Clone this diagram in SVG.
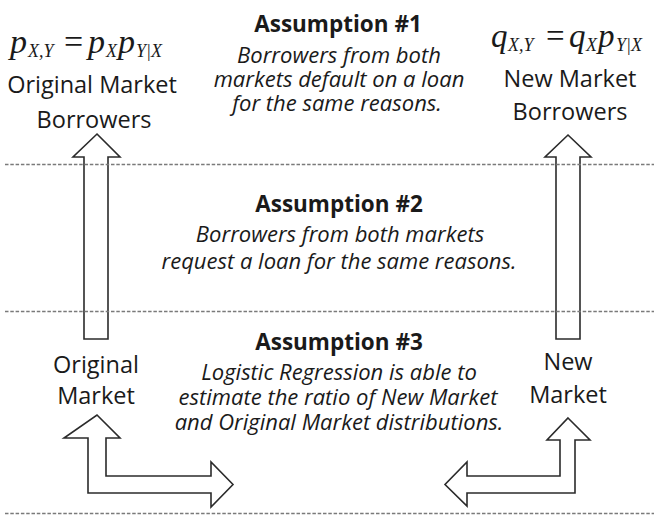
<svg xmlns="http://www.w3.org/2000/svg" width="654" height="519" viewBox="0 0 654 519">
  <defs>
    <linearGradient id="fadeLine" x1="0" y1="0" x2="1" y2="0">
      <stop offset="0" stop-color="#9a9a9a"/>
      <stop offset="1" stop-color="#ffffff"/>
    </linearGradient>
  </defs>
  <style>
    .label { font-family: "Open Sans", "Liberation Sans", sans-serif; font-size: 23.5px; fill: #1a1a1a; text-anchor: middle; }
    .title { font-family: "Open Sans", "Liberation Sans", sans-serif; font-size: 22.5px; font-weight: bold; fill: #1a1a1a; text-anchor: middle; }
    .body { font-family: "Open Sans", "Liberation Sans", sans-serif; font-size: 22px; font-style: italic; fill: #1a1a1a; text-anchor: middle; }
    .math { font-family: "Liberation Serif", "DejaVu Serif", serif; font-style: italic; fill: #1a1a1a; }
    .mathop { font-family: "Liberation Serif", "DejaVu Serif", serif; fill: #1a1a1a; }
    .arrow { fill: #ffffff; stroke: #2b2b2b; stroke-width: 1.6; stroke-linejoin: miter; }
    .sep { stroke: #7a7a7a; stroke-width: 1.3; stroke-dasharray: 3.5 1.8; fill: none; }
  </style>

  <rect width="654" height="519" fill="#ffffff"/>

  <!-- connectors: block arrows -->
  <g id="connectors">
    <polygon class="arrow" points="97,134 120,157 108,157 108,339 84,339 84,157 73,157"/>
    <polygon class="arrow" points="568,135 591,157 580,157 580,339 556,339 556,157 545,157"/>
    <polygon class="arrow" points="97,415 120,438 106,438 106,476 211,476 211,462 233,484.5 211,507 211,493 88,493 88,438 64,438"/>
    <polygon class="arrow" points="568,418 590,440 575,440 575,493 467,493 467,506 445,484.5 467,462 467,476 560,476 560,440 547,440"/>
  </g>

  <!-- section separators -->
  <g id="separators">
    <line x1="3" y1="0.7" x2="175" y2="0.7" stroke="url(#fadeLine)" stroke-width="1.3" stroke-dasharray="3.5 1.8"/>
    <line class="sep" x1="5" y1="164.5" x2="654" y2="164.5"/>
    <line class="sep" x1="5" y1="311.5" x2="654" y2="311.5"/>
    <line class="sep" x1="5" y1="513.5" x2="654" y2="513.5"/>
  </g>

  <!-- original market borrowers -->
  <g id="original-borrowers">
    <text class="math" y="53" font-size="34"><tspan x="10">p</tspan><tspan x="28" y="57" font-size="18">X,Y</tspan></text>
    <text class="mathop" x="64" y="53" font-size="34">=</text>
    <text class="math" y="53" font-size="34"><tspan x="88">p</tspan><tspan x="106" y="57" font-size="18">X</tspan><tspan x="118" y="53">p</tspan><tspan x="136" y="57" font-size="18">Y|X</tspan></text>
    <text class="label" x="92" y="93">Original Market</text>
    <text class="label" x="94" y="128">Borrowers</text>
  </g>

  <!-- new market borrowers -->
  <g id="new-borrowers">
    <text class="math" y="47" font-size="33"><tspan x="491">q</tspan><tspan x="508" y="51" font-size="18">X,Y</tspan></text>
    <text class="mathop" x="546" y="47" font-size="33">=</text>
    <text class="math" y="47" font-size="33"><tspan x="569">q</tspan><tspan x="586" y="51" font-size="18">X</tspan><tspan x="598" y="47">p</tspan><tspan x="616" y="51" font-size="18">Y|X</tspan></text>
    <text class="label" x="570" y="87">New Market</text>
    <text class="label" x="570" y="120">Borrowers</text>
  </g>

  <!-- assumption 1 -->
  <g id="assumption-1">
    <text class="title" x="338" y="32">Assumption #1</text>
    <text class="body" x="339" y="63">Borrowers from both</text>
    <text class="body" x="339" y="87">markets default on a loan</text>
    <text class="body" x="337" y="111">for the same reasons.</text>
  </g>

  <!-- assumption 2 -->
  <g id="assumption-2">
    <text class="title" x="339" y="212">Assumption #2</text>
    <text class="body" x="340" y="242">Borrowers from both markets</text>
    <text class="body" x="339" y="269">request a loan for the same reasons.</text>
  </g>

  <!-- assumption 3 -->
  <g id="assumption-3">
    <text class="title" x="339" y="350">Assumption #3</text>
    <text class="body" x="339" y="380">Logistic Regression is able to</text>
    <text class="body" x="338" y="405">estimate the ratio of New Market</text>
    <text class="body" x="339" y="430">and Original Market distributions.</text>
  </g>

  <!-- markets -->
  <g id="original-market">
    <text class="label" x="96" y="373">Original</text>
    <text class="label" x="96" y="404">Market</text>
  </g>
  <g id="new-market">
    <text class="label" x="568" y="370">New</text>
    <text class="label" x="568" y="403">Market</text>
  </g>
</svg>
